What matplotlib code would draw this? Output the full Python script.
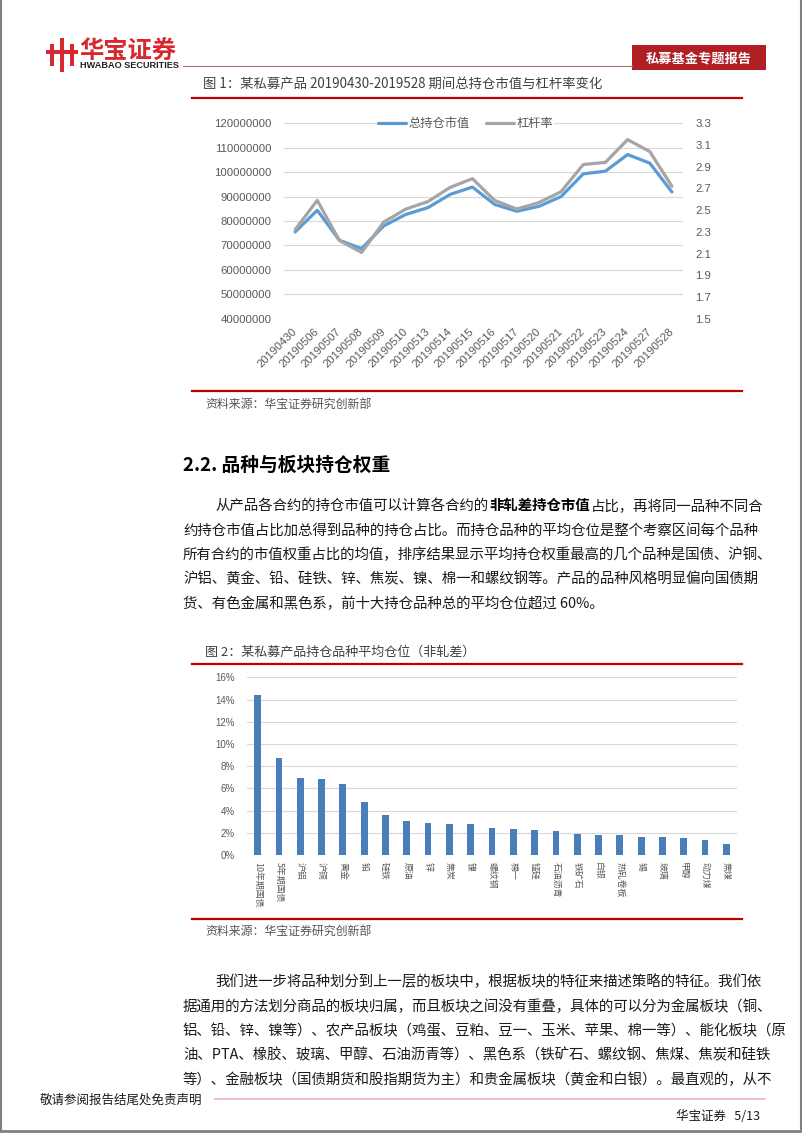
import numpy as np
import matplotlib
matplotlib.use("Agg")
import matplotlib.pyplot as plt
from matplotlib.patches import Rectangle

plt.rcParams['font.family'] = ['Noto Sans CJK SC', 'DejaVu Sans']

# ---------------------------
# Daten
# ---------------------------
dates = ['20190430', '20190506', '20190507', '20190508', '20190509', '20190510',
         '20190513', '20190514', '20190515', '20190516', '20190517', '20190520',
         '20190521', '20190522', '20190523', '20190524', '20190527', '20190528']
market_value = [75.5, 84.4, 72.1, 68.7, 78.0, 82.7, 85.5, 90.9, 93.9, 86.8,
                84.0, 86.0, 90.0, 99.3, 100.4, 107.2, 103.7, 91.9]  # Mio.
leverage = [2.32, 2.59, 2.22, 2.11, 2.39, 2.51, 2.58, 2.71, 2.79, 2.59,
            2.51, 2.57, 2.67, 2.92, 2.94, 3.15, 3.04, 2.72]

varieties = ['10年期国债', '5年期国债', '沪铝', '沪铜', '黄金', '铅', '硅铁', '原油',
             '锌', '焦炭', '镍', '螺纹钢', '棉一', '锰硅', '石油沥青', '铁矿石', '白银',
             '热轧卷板', '锡', '玻璃', '甲醇', '动力煤', '焦煤']
weights = [14.4, 8.75, 6.96, 6.84, 6.42, 4.78, 3.64, 3.07, 2.86, 2.81, 2.81, 2.39,
           2.30, 2.24, 2.18, 1.88, 1.79, 1.76, 1.64, 1.58, 1.49, 1.37, 1.01]  # %

para1 = ['约持仓市值占比加总得到品种的持仓占比。而持仓品种的平均仓位是整个考察区间每个品种',
         '所有合约的市值权重占比的均值，排序结果显示平均持仓权重最高的几个品种是国债、沪铜、',
         '沪铝、黄金、铅、硅铁、锌、焦炭、镍、棉一和螺纹钢等。产品的品种风格明显偏向国债期',
         '货、有色金属和黑色系，前十大持仓品种总的平均仓位超过 60%。']
para2 = ['我们进一步将品种划分到上一层的板块中，根据板块的特征来描述策略的特征。我们依',
         '据通用的方法划分商品的板块归属，而且板块之间没有重叠，具体的可以分为金属板块（铜、',
         '铝、铅、锌、镍等）、农产品板块（鸡蛋、豆粕、豆一、玉米、苹果、棉一等）、能化板块（原',
         '油、PTA、橡胶、玻璃、甲醇、石油沥青等）、黑色系（铁矿石、螺纹钢、焦煤、焦炭和硅铁',
         '等）、金融板块（国债期货和股指期货为主）和贵金属板块（黄金和白银）。最直观的，从不']

# ---------------------------
# Seite
# ---------------------------
W, H = 802, 1133
fig = plt.figure(figsize=(W / 100, H / 100), dpi=100)

page = fig.add_axes([0, 0, 1, 1])
page.set_xlim(0, W)
page.set_ylim(H, 0)
page.axis('off')


def px_axes(x0, y0, x1, y1):
    return fig.add_axes([x0 / W, 1 - y1 / H, (x1 - x0) / W, (y1 - y0) / H])


RED = '#C00000'
TXT = '#1a1a1a'
GREY = '#595959'

# Rahmen
page.plot([1, 1], [0, 1131], color='#808080', lw=1.5)
page.plot([800.5, 800.5], [0, 1131], color='#808080', lw=1.5)
page.plot([1, 800.5], [1131, 1131], color='#808080', lw=2)

# Logo
page.add_patch(Rectangle((50, 44), 4, 22, color='#D7282F', lw=0))
page.add_patch(Rectangle((60, 38), 4, 34, color='#D7282F', lw=0))
page.add_patch(Rectangle((70, 44), 4, 22, color='#D7282F', lw=0))
page.add_patch(Rectangle((46, 50), 32, 3.5, color='#D7282F', lw=0))
page.text(79, 51, '华宝证券', fontsize=17.5, fontweight='bold', color='#D7282F', va='center')
page.text(80, 65.5, 'HWABAO SECURITIES', fontsize=6.6, fontweight='bold', color='#222222',
          va='center', family=['Liberation Sans', 'DejaVu Sans'])
page.plot([183, 632], [66, 66], color='#B07070', lw=0.8)
page.add_patch(Rectangle((632, 45), 134, 25, color='#B01F24', lw=0))
page.text(699, 58, '私募基金专题报告', fontsize=9.5, fontweight='bold', color='white',
          ha='center', va='center')

# Abbildung 1 Kopf
page.text(203, 84, '图 1：某私募产品 20190430-2019528 期间总持仓市值与杠杆率变化',
          fontsize=9.6, color='#404040', va='center')
page.plot([192, 742], [97.5, 97.5], color=RED, lw=1.6)
page.plot([192, 742], [391, 391], color=RED, lw=1.6)
page.text(205, 404, '资料来源：华宝证券研究创新部', fontsize=8.6, color='#555555', va='center')

# Abschnitt 2.2
page.text(183, 465, '2.2. 品种与板块持仓权重', fontsize=13.5, fontweight='bold', color='black',
          va='center')
em = 14.45
fs = 10.4
seg_a = '从产品各合约的持仓市值可以计算各合约的'
seg_b = '非轧差持仓市值'
seg_c = '占比，再将同一品种不同合'
page.text(215, 506, seg_a, fontsize=fs, color=TXT, va='center')
page.text(215 + len(seg_a) * em, 506, seg_b, fontsize=fs, color='black', fontweight='bold',
          va='center')
page.text(215 + (len(seg_a) + len(seg_b)) * em, 506, seg_c, fontsize=fs, color=TXT, va='center')
for i, line in enumerate(para1):
    page.text(183, 530.5 + i * 24.4, line, fontsize=fs, color=TXT, va='center')

# Abbildung 2 Kopf
page.text(205, 652, '图 2：某私募产品持仓品种平均仓位（非轧差）', fontsize=9.4, color='#404040',
          va='center')
page.plot([192, 742], [664, 664], color=RED, lw=1.6)
page.plot([192, 742], [919, 919], color=RED, lw=1.6)
page.text(205, 931, '资料来源：华宝证券研究创新部', fontsize=8.6, color='#555555', va='center')

# Absatz 2
for i, line in enumerate(para2):
    x0 = 215 if i == 0 else 183
    page.text(x0, 982 + i * 24.5, line, fontsize=fs, color=TXT, va='center')

# Fußzeile
page.text(40, 1100, '敬请参阅报告结尾处免责声明', fontsize=9, color=TXT, va='center')
page.plot([215, 765], [1099, 1099], color='#F0B4BE', lw=1.2)
page.text(760, 1116, '华宝证券   5/13', fontsize=9, color=TXT, va='center', ha='right')

# ---------------------------
# Diagramm 1: Linien
# ---------------------------
ax1 = px_axes(284, 123.3, 683, 318.7)
x = np.arange(len(dates))
mv = np.array(market_value) * 1e6
ax1.plot(x, mv, color='#5B9BD5', lw=2.3, solid_capstyle='round', label='总持仓市值')
ax1.set_xlim(-0.5, len(dates) - 0.5)
ax1.set_ylim(40e6, 120e6)
ax1.set_yticks(np.arange(40e6, 120e6 + 1, 10e6))
ax1.set_yticklabels([f'{int(v)}' for v in np.arange(40e6, 120e6 + 1, 10e6)])
ax1.grid(axis='y', color='#D9D9D9', lw=0.8)
ax1.set_axisbelow(True)
for s in ax1.spines.values():
    s.set_visible(False)
ax1.set_xticks(x)
ax1.set_xticklabels(dates, rotation=45, ha='right', va='center', rotation_mode='anchor')
ax1.tick_params(axis='both', length=0, labelsize=8.2, labelcolor=GREY)
ax1.tick_params(axis='y', pad=9)
ax1.tick_params(axis='x', pad=8)
for lab in ax1.get_xticklabels() + ax1.get_yticklabels():
    lab.set_family(['Liberation Sans', 'DejaVu Sans'])

ax2 = ax1.twinx()
ax2.plot(x, leverage, color='#A5A5A5', lw=2.3, solid_capstyle='round', label='杠杆率')
ax2.set_ylim(1.5, 3.3)
ax2.set_yticks(np.arange(1.5, 3.31, 0.2))
ax2.set_yticklabels([f'{v:.1f}' for v in np.arange(1.5, 3.31, 0.2)])
ax2.tick_params(axis='y', length=0, labelsize=8.2, labelcolor=GREY, pad=9)
for lab in ax2.get_yticklabels():
    lab.set_family(['Liberation Sans', 'DejaVu Sans'])
for s in ax2.spines.values():
    s.set_visible(False)

h1, l1 = ax1.get_legend_handles_labels()
h2, l2 = ax2.get_legend_handles_labels()
leg = ax2.legend(h1 + h2, l1 + l2, ncol=2, loc='center', bbox_to_anchor=(0.455, 1.0),
                 frameon=True, facecolor='white', edgecolor='none', framealpha=1,
                 fontsize=8.8, handlelength=2.3, handletextpad=0.2, columnspacing=1.3,
                 borderpad=0.1)
for t in leg.get_texts():
    t.set_color(GREY)

# ---------------------------
# Diagramm 2: Balken
# ---------------------------
ax3 = px_axes(247, 677.3, 737, 855)
xb = np.arange(len(varieties))
ax3.bar(xb, weights, width=0.32, color='#4A7EBB', zorder=3)
ax3.set_xlim(-0.5, len(varieties) - 0.5)
ax3.set_ylim(0, 16)
ax3.set_yticks(np.arange(0, 17, 2))
ax3.set_yticklabels([f'{v}%' for v in range(0, 17, 2)])
ax3.grid(axis='y', color='#D9D9D9', lw=0.8)
ax3.set_axisbelow(True)
for s in ax3.spines.values():
    s.set_visible(False)
ax3.set_xticks(xb)
ax3.set_xticklabels(varieties, rotation=-90, ha='center', va='top')
ax3.tick_params(axis='both', length=0, labelcolor=GREY)
ax3.tick_params(axis='y', labelsize=7, pad=9)
ax3.tick_params(axis='x', labelsize=6.4, pad=5)
for lab in ax3.get_yticklabels():
    lab.set_family(['Liberation Sans', 'DejaVu Sans'])

fig.savefig('out.png', dpi=100)
